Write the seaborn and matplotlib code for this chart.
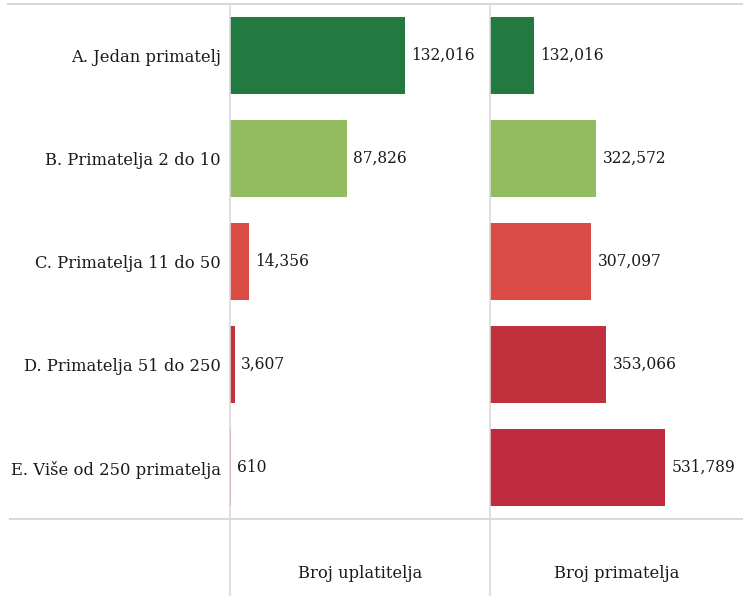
import numpy as np
import pandas as pd
import seaborn as sb
import matplotlib.pyplot as plt

categories = ['A. Jedan primatelj', 'B. Primatelja 2 do 10', 'C. Primatelja 11 do 50',
              'D. Primatelja 51 do 250', 'E. Više od 250 primatelja']
uplatitelji = [132016, 87826, 14356, 3607, 610]
primatelji = [132016, 322572, 307097, 353066, 531789]
colors = ['#237a40', '#93bb5f', '#d94b44', '#c0303d', '#bf2a3e']
panel_titles = ['Broj uplatitelja', 'Broj primatelja']

W, H = 743, 596
plt.rcParams['font.family'] = ['DejaVu Serif']
fig = plt.figure(figsize=(W / 100, H / 100), dpi=100)

grid = '#d9d9d9'
fs_lab = 11.8   # category labels and panel titles
fs_val = 11.2   # value labels
top, bottom = 4, 519
panels = [(230, 490, uplatitelji, 196000), (490, 743, primatelji, 767000)]
df_base = pd.DataFrame({'cat': categories})

for i, (x0, x1, vals, xmax) in enumerate(panels):
    ax = fig.add_axes([x0 / W, (H - bottom) / H, (x1 - x0) / W, (bottom - top) / H])
    df = df_base.copy()
    df['val'] = vals
    sb.barplot(data=df, x='val', y='cat', hue='cat', palette=colors,
               orient='h', width=0.75, legend=False, ax=ax, saturation=1)
    ax.set_xlim(0, xmax)
    ax.set_ylim(4.5, -0.5)
    for s in ax.spines.values():
        s.set_visible(False)
    ax.set_xticks([])
    ax.set_xlabel('')
    ax.set_ylabel('')
    if i == 0:
        ax.tick_params(axis='y', length=0, pad=6.5, labelsize=fs_lab, labelcolor='#1a1a1a')
    else:
        ax.set_yticks([])
    for j, v in enumerate(vals):
        ax.annotate(f'{v:,}', xy=(v, j), xytext=(4.5, 0), textcoords='offset points',
                    va='center', ha='left', fontsize=fs_val, color='#1a1a1a')
    fig.text(((x0 + x1) / 2) / W, 1 - 573 / H, panel_titles[i],
             ha='center', va='center', fontsize=fs_lab, color='#1a1a1a')

# frame lines
fig.add_artist(plt.Line2D([8 / W, 1], [1 - top / H] * 2, color=grid, lw=1.5))
fig.add_artist(plt.Line2D([10 / W, 1], [1 - bottom / H] * 2, color=grid, lw=1.5))
for xv in (230, 490):
    fig.add_artist(plt.Line2D([xv / W] * 2, [0, 1 - top / H], color=grid, lw=1.2))

fig.savefig('out.png', dpi=100)
